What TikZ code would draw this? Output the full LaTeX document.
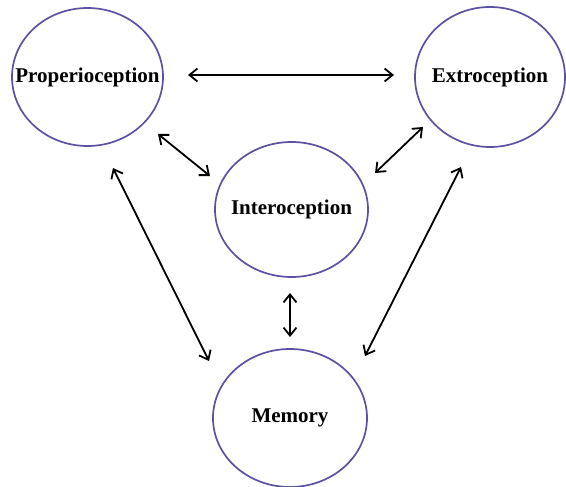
\documentclass[tikz,border=0pt]{standalone}
\usepackage{fontspec}
\setmainfont{Liberation Serif}
\usetikzlibrary{arrows.meta,shapes.geometric}
\definecolor{ringblue}{HTML}{5B52A3}
\begin{document}
\begin{tikzpicture}[x=1pt,y=-1pt,
  sense/.style={draw=ringblue,line width=1.7pt,ellipse,inner sep=0pt,
    font=\fontsize{21}{25}\selectfont\bfseries},
  link/.style={line width=1.8pt,{Straight Barb[length=8pt,width=13pt]}-{Straight Barb[length=8pt,width=13pt]}}]
\useasboundingbox (0,0) rectangle (566,487);
\fill[white] (0,0) rectangle (566,487);
\node[sense,minimum width=151pt,minimum height=138pt] (pro) at (87.5,77) {\makebox[0pt]{Properioception}};
\node[sense,minimum width=150pt,minimum height=140pt] (ext) at (490,77) {\makebox[0pt]{Extroception}};
\node[sense,minimum width=153pt,minimum height=135pt] (int) at (291.5,209.5) {\makebox[0pt]{Interoception}};
\node[sense,minimum width=154pt,minimum height=138pt] (mem) at (290,418) {\makebox[0pt]{Memory}};
\coordinate (a1) at (188,75);  \coordinate (a2) at (394,75);
\coordinate (b1) at (158,134); \coordinate (b2) at (210,176);
\coordinate (c1) at (423,127); \coordinate (c2) at (375,173);
\coordinate (d1) at (113,168); \coordinate (d2) at (209,361);
\coordinate (e1) at (461,167); \coordinate (e2) at (365,356);
\coordinate (f1) at (290,293); \coordinate (f2) at (290,337);
\draw[link] (a1) -- (a2);
\draw[link] (b1) -- (b2);
\draw[link] (c1) -- (c2);
\draw[link] (d1) -- (d2);
\draw[link] (e1) -- (e2);
\draw[link] (f1) -- (f2);
\end{tikzpicture}
\end{document}
